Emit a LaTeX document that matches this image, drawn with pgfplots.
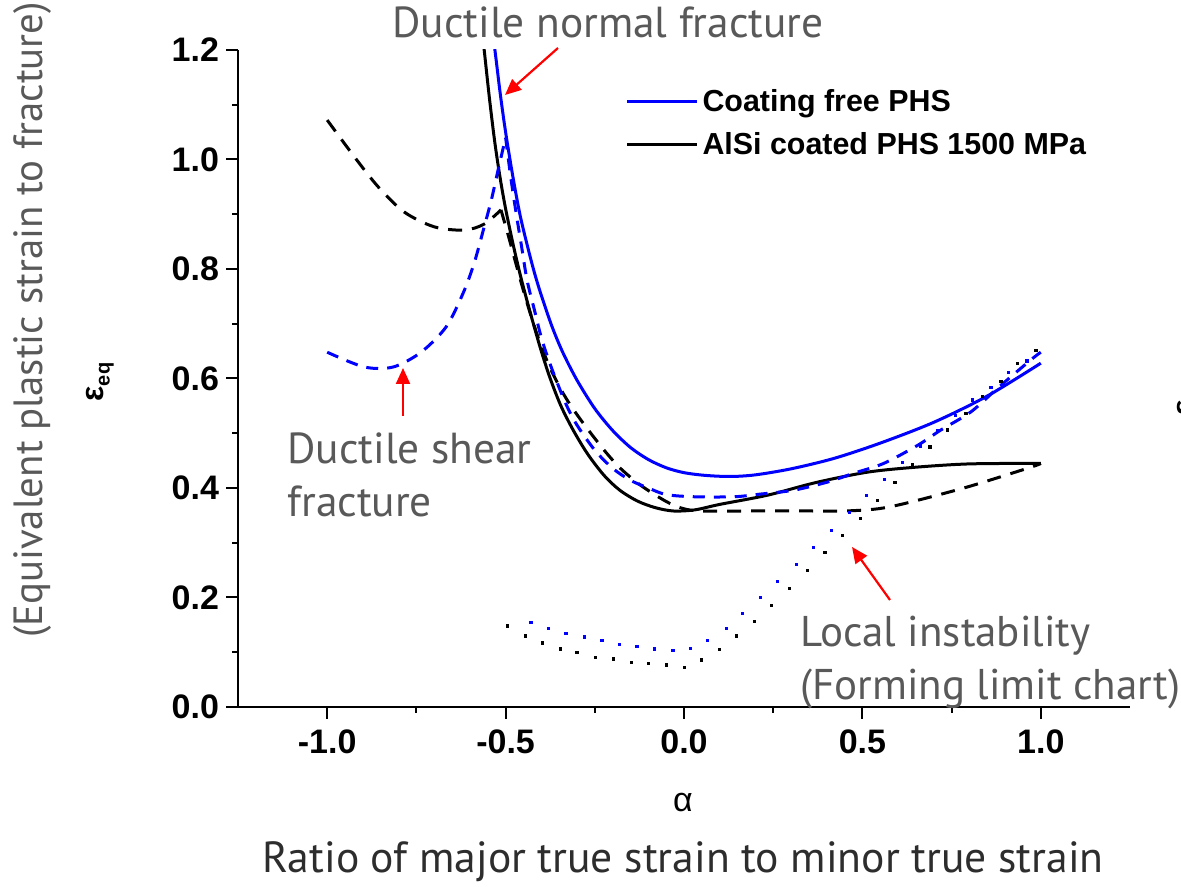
\documentclass[border=0pt]{standalone}
\usepackage{fontspec}
\setmainfont{PT Sans}
\newfontfamily\arial{Liberation Sans}
\usepackage{pgfplots}
\pgfplotsset{compat=1.18}
\usetikzlibrary{arrows.meta}
\definecolor{txtgray}{RGB}{89,89,89}
\definecolor{ratiocol}{RGB}{45,45,45}
\definecolor{pblue}{RGB}{0,0,255}
\definecolor{ared}{RGB}{255,0,0}

\begin{document}
\begin{tikzpicture}
\path[use as bounding box] (0,0) rectangle (590.5pt,443.5pt);
\begin{axis}[
  at={(119pt,90pt)}, anchor=south west,
  scale only axis, width=446pt, height=328.5pt,
  xmin=-1.25, xmax=1.25, ymin=0, ymax=1.2,
  axis x line*=bottom, axis y line*=left,
  axis line style={line width=1pt, -},
  xtick={-1,-0.5,0,0.5,1},
  ytick={0,0.2,0.4,0.6,0.8,1.0,1.2},
  minor x tick num=1, minor y tick num=1,
  tick align=outside,
  major tick length=6pt, minor tick length=3pt,
  every tick/.style={black, line width=1pt},
  tick label style={font=\arial\bfseries\fontsize{17}{17}\selectfont},
  /pgf/number format/assume math mode=true,
  /pgf/number format/fixed,
  /pgf/number format/fixed zerofill,
  /pgf/number format/precision=1,
  xticklabel style={yshift=-2pt},
  legend style={draw=none, fill=none, at={(0.434,0.947)}, anchor=north west,
    font=\arial\bfseries\fontsize{15.2}{15.2}\selectfont, inner sep=0pt, row sep=5pt},
  legend cell align=left,
  legend image code/.code={\draw[#1] (0pt,0pt) -- (35pt,0pt);},
]
% solid: coating free PHS
\addplot[pblue, line width=1.5pt, smooth] coordinates {
(-0.545,1.27) (-0.53,1.2) (-0.515,1.12) (-0.5,1.05) (-0.48,0.97) (-0.46,0.9) (-0.44,0.845)
(-0.42,0.795) (-0.4,0.752) (-0.37,0.695) (-0.34,0.648) (-0.3,0.597) (-0.25,0.545)
(-0.2,0.505) (-0.15,0.474) (-0.1,0.452) (-0.05,0.437) (0.0,0.428) (0.06,0.423) (0.13,0.421)
(0.2,0.424) (0.3,0.435) (0.42,0.454) (0.55,0.482) (0.7,0.52) (0.85,0.568) (1.0,0.628)};
\addlegendentry{Coating free PHS}
% solid: AlSi coated
\addplot[black, line width=1.5pt, smooth] coordinates {
(-0.575,1.29) (-0.56,1.2) (-0.545,1.11) (-0.53,1.03) (-0.515,0.965) (-0.5,0.91) (-0.48,0.848)
(-0.46,0.792) (-0.44,0.742) (-0.42,0.695) (-0.4,0.65) (-0.375,0.6) (-0.345,0.55)
(-0.31,0.505) (-0.27,0.462) (-0.224,0.423) (-0.18,0.396) (-0.13,0.376) (-0.08,0.364)
(-0.03,0.358) (0.03,0.36) (0.1,0.37) (0.235,0.387) (0.37,0.41) (0.515,0.429)
(0.65,0.438) (0.8,0.444) (1.0,0.445)};
\addlegendentry{AlSi coated PHS 1500 MPa}
% dashed black
\addplot[black, line width=1.5pt, smooth, dash pattern=on 7pt off 5pt, forget plot] coordinates {
(-1.0,1.072) (-0.924,1.005) (-0.857,0.95) (-0.784,0.904) (-0.7,0.877) (-0.616,0.871)
(-0.56,0.882) (-0.513,0.908)};
\addplot[black, line width=1.5pt, smooth, dash pattern=on 7pt off 5pt, forget plot] coordinates {
(-0.513,0.908) (-0.492,0.86) (-0.472,0.812) (-0.452,0.765) (-0.43,0.717) (-0.41,0.677)
(-0.39,0.642) (-0.37,0.612) (-0.345,0.58) (-0.32,0.553) (-0.29,0.525) (-0.26,0.499)
(-0.22,0.466) (-0.18,0.437) (-0.13,0.409) (-0.08,0.387) (-0.04,0.372) (0.0,0.362)
(0.05,0.358) (0.2,0.358) (0.35,0.358) (0.45,0.358) (0.543,0.362) (0.627,0.373)
(0.795,0.402) (0.972,0.438) (1.0,0.445)};
% dashed blue
\addplot[pblue, line width=1.5pt, smooth, dash pattern=on 6pt off 4.5pt, forget plot] coordinates {
(-1.0,0.648) (-0.896,0.621) (-0.815,0.621) (-0.737,0.648) (-0.667,0.694) (-0.619,0.756)
(-0.588,0.811) (-0.56,0.877) (-0.54,0.926) (-0.521,0.981) (-0.5,1.04)};
\addplot[pblue, line width=1.5pt, smooth, dash pattern=on 6pt off 4.5pt, forget plot] coordinates {
(-0.5,1.04) (-0.485,0.965) (-0.47,0.9) (-0.455,0.84) (-0.44,0.78) (-0.42,0.727)
(-0.4,0.675) (-0.38,0.635) (-0.36,0.6) (-0.33,0.552) (-0.3,0.515) (-0.25,0.469)
(-0.2,0.436) (-0.15,0.414) (-0.1,0.4) (-0.05,0.388) (0.028,0.384) (0.14,0.384)
(0.216,0.389) (0.308,0.396) (0.403,0.411) (0.476,0.427) (0.56,0.445) (0.655,0.478)
(0.72,0.506) (0.804,0.539) (0.88,0.583) (0.972,0.634) (1.0,0.648)};
% dotted blue (FLC)
\addplot[pblue, only marks, mark=square*, mark size=0.55pt, forget plot] coordinates {
(-0.429,0.155) (-0.381,0.144) (-0.331,0.135) (-0.28,0.128) (-0.23,0.121) (-0.182,0.115)
(-0.132,0.11) (-0.084,0.106) (-0.031,0.104) (0.017,0.107) (0.066,0.122) (0.118,0.144)
(0.164,0.171) (0.214,0.2) (0.262,0.23) (0.314,0.261) (0.363,0.292) (0.412,0.323)
(0.463,0.356) (0.512,0.386) (0.561,0.416) (0.613,0.447) (0.662,0.477) (0.711,0.505)
(0.76,0.533) (0.809,0.561) (0.86,0.584) (0.909,0.611) (0.961,0.632)};
% dotted black (FLC)
\addplot[black, only marks, mark=square*, mark size=0.55pt, forget plot] coordinates {
(-0.496,0.148) (-0.445,0.13) (-0.398,0.117) (-0.347,0.106) (-0.3,0.099) (-0.249,0.091)
(-0.199,0.088) (-0.148,0.082) (-0.1,0.079) (-0.05,0.077) (0.0,0.073) (0.048,0.086)
(0.099,0.105) (0.146,0.13) (0.197,0.157) (0.246,0.186) (0.295,0.217) (0.346,0.249)
(0.395,0.282) (0.444,0.314) (0.494,0.345) (0.543,0.378) (0.591,0.41) (0.641,0.443)
(0.689,0.475) (0.739,0.506) (0.79,0.536) (0.837,0.567) (0.888,0.595) (0.935,0.628)
(0.986,0.652)};
\end{axis}
% annotations in pixel coordinates of the reference
\begin{scope}[shift={(0,443.5pt)}, x=0.5pt, y=-0.5pt]
  \draw[ared, line width=1.1pt, -{Triangle[length=8pt,width=7pt]}] (558,48) -- (505,95);
  \draw[ared, line width=1.1pt, -{Triangle[length=8pt,width=7pt]}] (403,416) -- (403,368);
  \draw[ared, line width=1.1pt, -{Triangle[length=8pt,width=7pt]}] (890,600) -- (852,547);
  \node[anchor=base, txtgray, font=\fontsize{21.7}{21.7}\selectfont, inner sep=0pt] at (608,38) {Ductile normal fracture};
  \node[anchor=base west, txtgray, font=\fontsize{21.7}{21.7}\selectfont, inner sep=0pt] at (287,464) {Ductile shear};
  \node[anchor=base west, txtgray, font=\fontsize{21.7}{21.7}\selectfont, inner sep=0pt] at (287,517) {fracture};
  \node[anchor=base west, txtgray, font=\fontsize{21.5}{21.5}\selectfont, inner sep=0pt] at (800,647) {Local instability};
  \node[anchor=base west, txtgray, font=\fontsize{21.5}{21.5}\selectfont, inner sep=0pt] at (800,700) {(Forming limit chart)};
  \node[anchor=base, ratiocol, font=\fontsize{21.8}{21.8}\selectfont, inner sep=0pt] at (683,873) {Ratio of major true strain to minor true strain};
  \node[anchor=base, rotate=90, txtgray, font=\fontsize{20.4}{20.4}\selectfont, inner sep=0pt] at (42,320) {(Equivalent plastic strain to fracture)};
  \node[anchor=base, font=\arial\fontsize{17}{17}\selectfont, inner sep=0pt] at (683,812) {α};
  \node[rotate=90, font=\arial\bfseries\fontsize{16}{16}\selectfont, inner sep=0pt] at (100,382) {ε\raisebox{-3pt}{\fontsize{10}{10}\selectfont eq}};
  \node[rotate=90, font=\arial\bfseries\fontsize{16}{16}\selectfont, inner sep=0pt] at (1186,408) {ε};
\end{scope}
\end{tikzpicture}
\end{document}
